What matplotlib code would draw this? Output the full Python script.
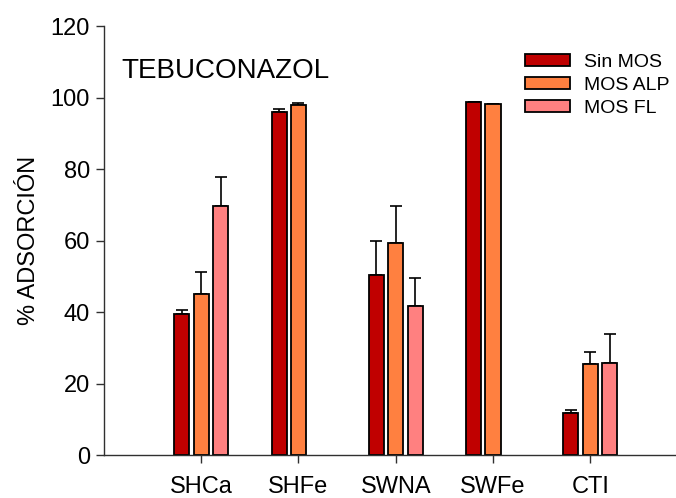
import matplotlib.pyplot as plt
import numpy as np

plt.rcParams['font.family'] = ['Liberation Sans', 'DejaVu Sans']

suelos = ['SHCa', 'SHFe', 'SWNA', 'SWFe', 'CTI']
series = ['Sin MOS', 'MOS ALP', 'MOS FL']
colores = ['#C00000', '#FF8040', '#FF8080']

sin_mos = [39.4, 96.0, 50.4, 98.8, 11.7]
sin_mos_err = [1.2, 0.9, 9.5, 0.0, 1.0]
mos_alp = [45.0, 98.0, 59.4, 98.1, 25.4]
mos_alp_err = [6.1, 0.4, 10.4, 0.2, 3.3]
mos_fl = [69.8, np.nan, 41.8, np.nan, 25.8]
mos_fl_err = [8.1, np.nan, 7.7, np.nan, 8.1]

valores = [sin_mos, mos_alp, mos_fl]
errores = [sin_mos_err, mos_alp_err, mos_fl_err]

fig = plt.figure(figsize=(6.76, 4.98), dpi=100)
ax = fig.add_axes([0.1538, 0.0863, 0.846, 0.8614])

x = np.arange(1, len(suelos) + 1)
offsets = [-0.2, 0.0, 0.2]
for vals, errs, color, off, nombre in zip(valores, errores, colores, offsets, series):
    vals = np.array(vals, dtype=float)
    errs = np.array(errs, dtype=float)
    ax.bar(x + off, vals, width=0.155, color=color, edgecolor='black',
           linewidth=1.3, label=nombre, zorder=2)
    ax.errorbar(x + off, vals, yerr=[np.zeros_like(errs), errs], fmt='none',
                ecolor='black', elinewidth=1.2, capsize=4.3, capthick=1.2,
                zorder=1)

ax.set_xlim(0, 5.88)
ax.set_ylim(0, 120)
ax.set_yticks(np.arange(0, 121, 20))
ax.set_xticks(x)
ax.set_xticklabels(suelos)
ax.tick_params(axis='both', labelsize=17, direction='out', length=6,
               width=1, color='#303030')
ax.tick_params(axis='x', pad=9)
ax.tick_params(axis='y', pad=4)
ax.set_ylabel('% ADSORCIÓN', fontsize=17, labelpad=8)

for side in ['top', 'right']:
    ax.spines[side].set_visible(False)
for side in ['left', 'bottom']:
    ax.spines[side].set_color('#303030')
    ax.spines[side].set_linewidth(1)

ax.text(0.03, 0.895, 'TEBUCONAZOL', transform=ax.transAxes, fontsize=20,
        ha='left', va='center')

ax.legend(loc='upper left', bbox_to_anchor=(0.7225, 0.954), frameon=False,
          fontsize=14, handlelength=2.3, handleheight=0.62,
          labelspacing=0.3, handletextpad=0.75, borderaxespad=0)

fig.savefig('out.png', dpi=100)
